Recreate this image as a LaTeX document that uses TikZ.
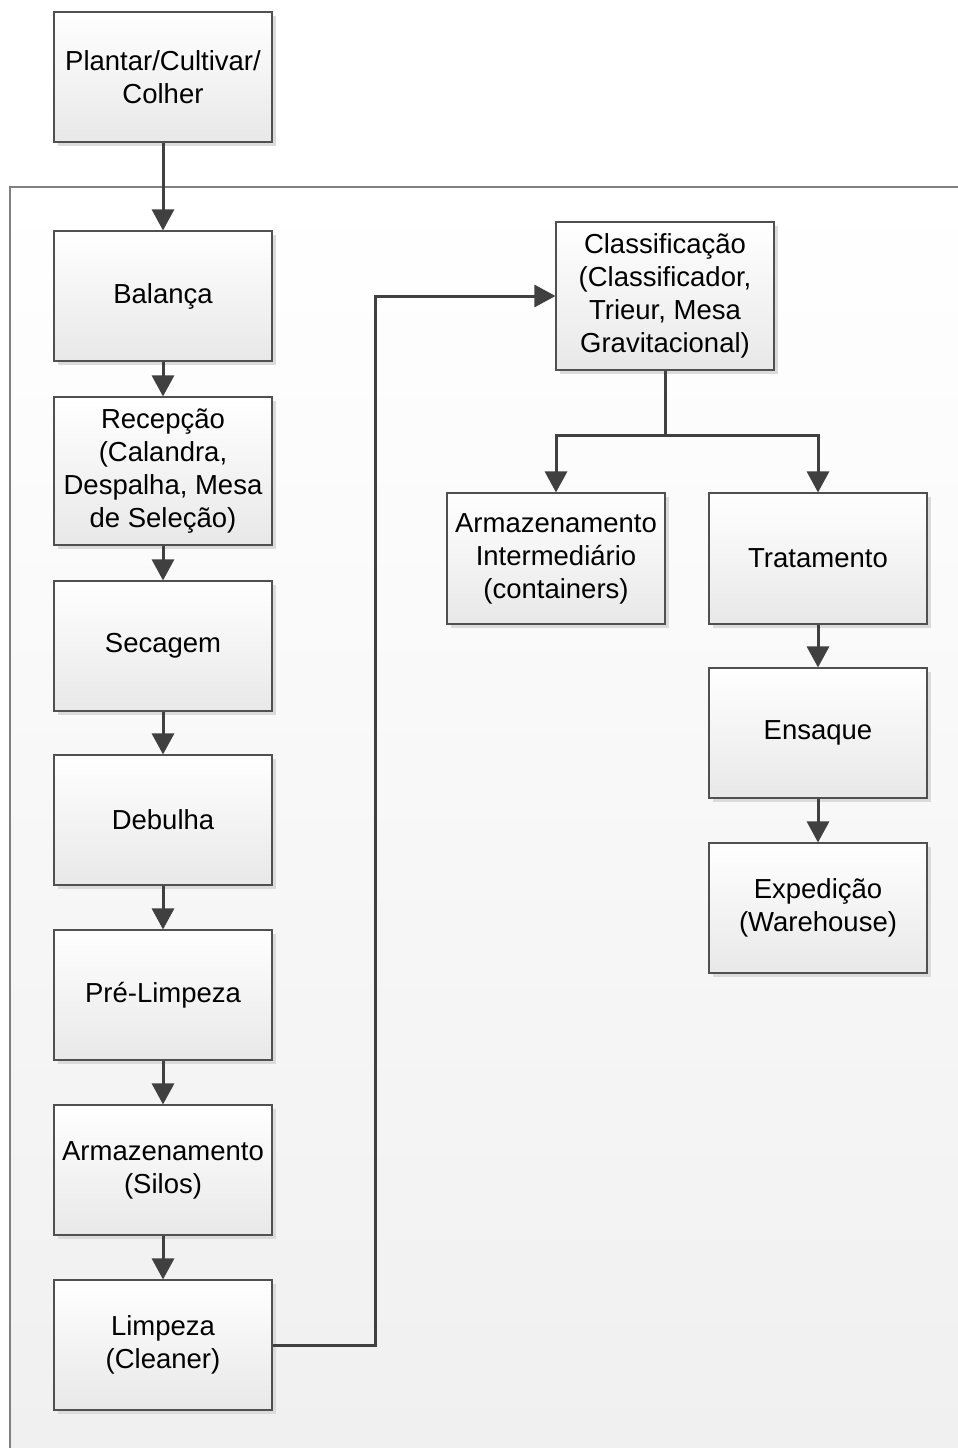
\documentclass[tikz,border=0pt]{standalone}
\usepackage{fontspec}
\setmainfont{Liberation Sans}
\usetikzlibrary{arrows.meta,shadows,calc}
\definecolor{linec}{HTML}{404040}
\definecolor{boxborder}{HTML}{505050}
\definecolor{contbg}{HTML}{F0F0F0}
\definecolor{contborder}{HTML}{808080}
\tikzset{
  procbox/.style={rectangle, draw=boxborder, line width=1.1pt,
    top color=white, bottom color=black!9,
    minimum width=218pt, minimum height=130pt, align=center,
    inner sep=2pt,
    font=\fontsize{27.5}{33}\selectfont,
    drop shadow={shadow xshift=4pt, shadow yshift=-4pt, fill=black!14, opacity=1}},
  flow/.style={draw=linec, line width=3pt,
    -{Triangle[width=22pt,length=21pt]}},
  plain/.style={draw=linec, line width=3pt}
}
\begin{document}
\begin{tikzpicture}[x=1pt,y=-1pt]
\useasboundingbox (0,0) rectangle (958,1448);
% container
\shade[top color=white, bottom color=contbg] (10,187) rectangle (958,1448);
\draw[contborder, line width=1.2pt] (10,1448) -- (10,187) -- (958,187);
% left column
\node[procbox] (plantar) at (163,77) {Plantar/Cultivar/\\Colher};
\node[procbox] (balanca) at (163,296) {Balança};
\node[procbox, minimum height=148pt] (recep) at (163,471) {Recepção\\(Calandra,\\Despalha, Mesa\\de Seleção)};
\node[procbox] (secagem) at (163,646) {Secagem};
\node[procbox] (debulha) at (163,820) {Debulha};
\node[procbox] (prelimp) at (163,995) {Pré-Limpeza};
\node[procbox] (silos) at (163,1170) {Armazenamento\\(Silos)};
\node[procbox] (limpeza) at (163,1345) {Limpeza\\(Cleaner)};
% right part
\node[procbox, minimum height=148pt] (classif) at (665,296) {Classificação\\(Classificador,\\Trieur, Mesa\\Gravitacional)};
\node[procbox, minimum height=131pt] (armint) at (556,558.5) {Armazenamento\\Intermediário\\(containers)};
\node[procbox, minimum height=131pt] (trat) at (818,558.5) {Tratamento};
\node[procbox] (ensaque) at (818,733) {Ensaque};
\node[procbox] (exped) at (818,908) {Expedição\\(Warehouse)};
% connectors
\draw[flow] (plantar) -- (balanca);
\draw[flow] (balanca) -- (recep);
\draw[flow] (recep) -- (secagem);
\draw[flow] (secagem) -- (debulha);
\draw[flow] (debulha) -- (prelimp);
\draw[flow] (prelimp) -- (silos);
\draw[flow] (silos) -- (limpeza);
\draw[flow] (limpeza.east) -- ++(103,0) |- (classif.west);
\draw[plain] (classif.south) -- ++(0,65) coordinate (split);
\draw[flow] (split) -| (armint.north);
\draw[flow] (split) -| (trat.north);
\draw[flow] (trat) -- (ensaque);
\draw[flow] (ensaque) -- (exped);
\end{tikzpicture}
\end{document}
